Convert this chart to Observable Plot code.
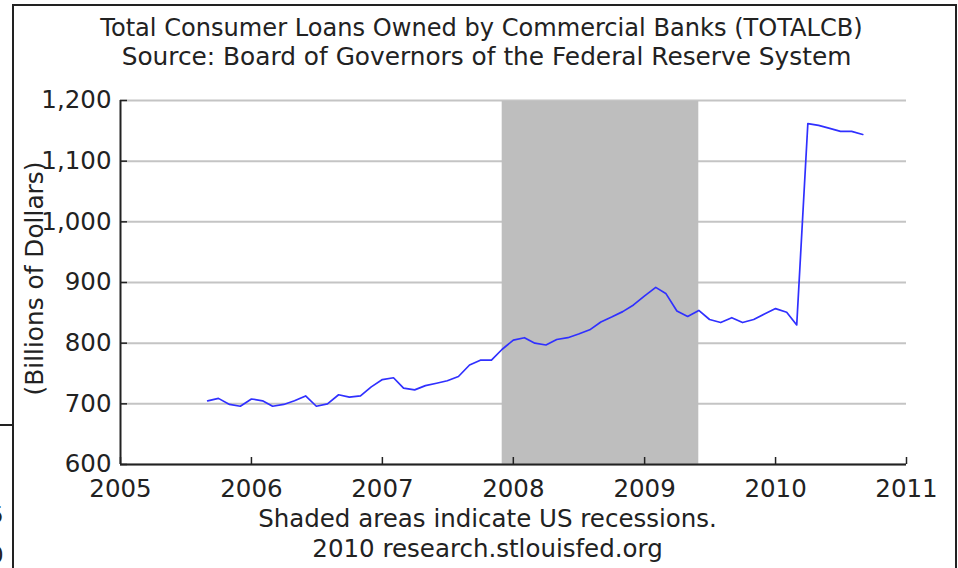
<!DOCTYPE html>
<html>
<head>
<meta charset="utf-8">
<script src="https://cdn.jsdelivr.net/npm/d3@7"></script>
<script src="https://cdn.jsdelivr.net/npm/@observablehq/plot@0.6"></script>
<style>
html, body { margin: 0; padding: 0; background: #fff; }
#wrap { position: relative; width: 958px; height: 568px; overflow: hidden; background: #fff; }
#chart { position: absolute; left: 0; top: 0; }
#frame { position: absolute; left: 12px; top: 4px; width: 941px; height: 700px; border: 2px solid #222; pointer-events: none; }
#stub { position: absolute; left: 0; top: 424px; width: 13px; height: 2px; background: #222; }
#frag { position: absolute; left: 0; top: 500px; width: 12px; height: 68px; overflow: hidden; font-family: "DejaVu Sans", sans-serif; font-size: 23px; color: #222; }
#frag div { position: absolute; left: -11px; }
</style>
</head>
<body>
<div id="wrap">
  <div id="chart"></div>
  <div id="frame"></div>
  <div id="stub"></div>
  <div id="frag"><div style="top:2px">5</div><div style="top:42px">0</div></div>
</div>
<script>
// ---- data ----
const months = [
  "2005-09","2005-10","2005-11","2005-12",
  "2006-01","2006-02","2006-03","2006-04","2006-05","2006-06","2006-07","2006-08","2006-09","2006-10","2006-11","2006-12",
  "2007-01","2007-02","2007-03","2007-04","2007-05","2007-06","2007-07","2007-08","2007-09","2007-10","2007-11","2007-12",
  "2008-01","2008-02","2008-03","2008-04","2008-05","2008-06","2008-07","2008-08","2008-09","2008-10","2008-11","2008-12",
  "2009-01","2009-02","2009-03","2009-04","2009-05","2009-06","2009-07","2009-08","2009-09","2009-10","2009-11","2009-12",
  "2010-01","2010-02","2010-03","2010-04","2010-05","2010-06","2010-07","2010-08","2010-09"
];
const loans = [
  705, 709, 699, 696,
  708, 705, 696, 699, 705, 713, 696, 700, 715, 711, 713, 728,
  740, 743, 726, 723, 730, 734, 738, 745, 764, 772, 772, 790,
  805, 809, 800, 797, 806, 809, 815, 822, 835, 843, 852, 863,
  878, 892, 882, 853, 844, 854, 839, 834, 842, 834, 839, 848,
  857, 851, 830, 1162, 1159, 1154, 1149, 1149, 1144
];
const recessionStart = ["2007-12-01"];
const recessionEnd = ["2009-06-01"];
const xDomain = ["2005-01-01", "2011-01-01"];
const xTickLabels = ["2005","2006","2007","2008","2009","2010","2011"];
const yTicks = [600, 700, 800, 900, 1000, 1100, 1200];
const titleLines = [
  "Total Consumer Loans Owned by Commercial Banks (TOTALCB)",
  "Source: Board of Governors of the Federal Reserve System"
];
const yLabel = "(Billions of Dollars)";
const footerLines = ["Shaded areas indicate US recessions.", "2010 research.stlouisfed.org"];

// ---- build ----
const data = months.map((m, i) => ({date: new Date(m + "-01T00:00:00Z"), value: loans[i]}));
const recessions = recessionStart.map((s, i) => ({start: new Date(s + "T00:00:00Z"), end: new Date(recessionEnd[i] + "T00:00:00Z")}));
const xd = xDomain.map(d => new Date(d + "T00:00:00Z"));
const xTicks = xTickLabels.map(y => new Date(y + "-01-01T00:00:00Z"));
const font = "DejaVu Sans, Verdana, sans-serif";
const ink = "#222";
const txt = {fill: ink, textAnchor: "middle", lineAnchor: "middle"};

const chart = Plot.plot({
  width: 958,
  height: 568,
  marginLeft: 120,
  marginRight: 52,
  marginTop: 100,
  marginBottom: 104,
  style: {fontFamily: font, fontSize: "24.5px", color: ink, background: "transparent", overflow: "visible"},
  x: {type: "utc", domain: xd},
  y: {domain: [600, 1200]},
  marks: [
    Plot.gridY(yTicks, {stroke: "#c4c4c4", strokeOpacity: 1, strokeWidth: 2}),
    Plot.rect(recessions, {x1: "start", x2: "end", fill: "#bebebe", insetTop: 1}),
    Plot.line(data, {x: "date", y: "value", stroke: "#3030ff", strokeWidth: 1.7}),
    Plot.ruleY([yTicks[0]], {stroke: ink, strokeWidth: 2}),
    Plot.ruleX([xd[0]], {stroke: ink, strokeWidth: 2}),
    Plot.axisY({ticks: yTicks, label: null, tickSize: -7, tickPadding: 16, tickFormat: d3.format(","), stroke: ink, strokeWidth: 1.5, fill: ink, fontSize: 24.5}),
    Plot.axisX({ticks: xTicks, label: null, tickSize: -7, tickPadding: 22, tickFormat: d3.utcFormat("%Y"), stroke: ink, strokeWidth: 1.5, fill: ink, fontSize: 24.5}),
    Plot.text([titleLines[0]], {...txt, frameAnchor: "top", dx: -32, dy: -72, fontSize: 24.1}),
    Plot.text([titleLines[1]], {...txt, frameAnchor: "top", dx: -27, dy: -43, fontSize: 24.8}),
    Plot.text([yLabel], {...txt, frameAnchor: "left", rotate: -90, dx: -85, dy: -4, fontSize: 24.8}),
    Plot.text([footerLines[0]], {...txt, frameAnchor: "bottom", dx: -26, dy: 55, fontSize: 24.5}),
    Plot.text([footerLines[1]], {...txt, frameAnchor: "bottom", dx: -26, dy: 85, fontSize: 24.5})
  ]
});
document.getElementById("chart").appendChild(chart);
</script>
</body>
</html>
